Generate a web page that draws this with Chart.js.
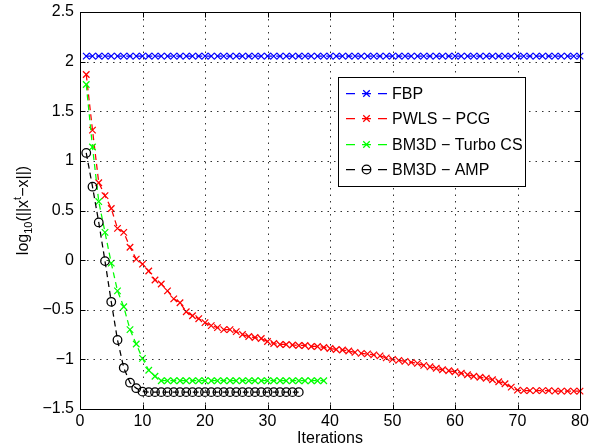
<!DOCTYPE html>
<html>
<head>
<meta charset="UTF-8">
<title>Convergence</title>
<script src="https://cdn.jsdelivr.net/npm/chart.js"></script>
<style>
    html, body { margin: 0; padding: 0; background: #fff; }
    #chart { display: block; }
</style>
</head>
<body>
<canvas id="chart" width="596" height="448"></canvas>
<script>
const seriesNames = ['FBP', 'PWLS − PCG', 'BM3D − Turbo CS', 'BM3D − AMP'];
const seriesColors = ['#0000ff', '#ff0000', '#00ff00', '#000000'];
const seriesMarkers = ['crossRot', 'crossRot', 'crossRot', 'circle'];

const xTickValues = [0, 10, 20, 30, 40, 50, 60, 70, 80];
const xTickLabels = ['0', '10', '20', '30', '40', '50', '60', '70', '80'];
const yTickValues = [-1.5, -1, -0.5, 0, 0.5, 1, 1.5, 2, 2.5];
const yTickLabels = ['−1.5', '−1', '−0.5', '0', '0.5', '1', '1.5', '2', '2.5'];

// log10 error per iteration (iteration 1, 2, ...)
const fbp = [
    2.055, 2.055, 2.055, 2.055, 2.055, 2.055, 2.055, 2.055, 2.055, 2.055,
    2.055, 2.055, 2.055, 2.055, 2.055, 2.055, 2.055, 2.055, 2.055, 2.055,
    2.055, 2.055, 2.055, 2.055, 2.055, 2.055, 2.055, 2.055, 2.055, 2.055,
    2.055, 2.055, 2.055, 2.055, 2.055, 2.055, 2.055, 2.055, 2.055, 2.055,
    2.055, 2.055, 2.055, 2.055, 2.055, 2.055, 2.055, 2.055, 2.055, 2.055,
    2.055, 2.055, 2.055, 2.055, 2.055, 2.055, 2.055, 2.055, 2.055, 2.055,
    2.055, 2.055, 2.055, 2.055, 2.055, 2.055, 2.055, 2.055, 2.055, 2.055,
    2.055, 2.055, 2.055, 2.055, 2.055, 2.055, 2.055, 2.055, 2.055, 2.055
];
const pwls = [
    1.87, 1.31, 0.78, 0.65, 0.52, 0.32, 0.28, 0.13, 0.01, -0.04,
    -0.11, -0.20, -0.24, -0.31, -0.39, -0.43, -0.52, -0.56, -0.59, -0.63,
    -0.66, -0.68, -0.70, -0.70, -0.72, -0.75, -0.77, -0.78, -0.79, -0.82,
    -0.84, -0.85, -0.85, -0.855, -0.86, -0.86, -0.87, -0.87, -0.88, -0.89,
    -0.90, -0.905, -0.915, -0.93, -0.94, -0.945, -0.955, -0.965, -0.985, -1.00,
    -1.01, -1.02, -1.03, -1.04, -1.06, -1.075, -1.09, -1.105, -1.115, -1.125,
    -1.14, -1.155, -1.17, -1.18, -1.19, -1.205, -1.225, -1.245, -1.28, -1.31,
    -1.315, -1.315, -1.315, -1.315, -1.315, -1.32, -1.32, -1.32, -1.32, -1.32
];
const turbo = [
    1.77, 1.14, 0.59, 0.28, -0.03, -0.31, -0.47, -0.70, -0.845, -0.99,
    -1.11, -1.17, -1.215, -1.215, -1.215, -1.215, -1.215, -1.215, -1.215, -1.215,
    -1.215, -1.215, -1.215, -1.215, -1.215, -1.215, -1.215, -1.215, -1.215, -1.215,
    -1.215, -1.215, -1.215, -1.215, -1.215, -1.215, -1.215, -1.215, -1.215
];
const amp = [
    1.08, 0.74, 0.38, -0.01, -0.42, -0.805, -1.085, -1.235, -1.29, -1.325,
    -1.33, -1.33, -1.33, -1.33, -1.33, -1.33, -1.33, -1.33, -1.33, -1.33,
    -1.33, -1.33, -1.33, -1.33, -1.33, -1.33, -1.33, -1.33, -1.33, -1.33,
    -1.33, -1.33, -1.33, -1.33, -1.33
];

const FONT = '"Liberation Sans", Arial, Helvetica, sans-serif';

function toPoints(arr) {
    return arr.map((v, i) => ({ x: i + 1, y: v }));
}

function makeDataset(idx, values) {
    const circle = seriesMarkers[idx] === 'circle';
    return {
        label: seriesNames[idx],
        data: toPoints(values),
        borderColor: seriesColors[idx],
        backgroundColor: 'transparent',
        borderWidth: 1.25,
        borderDash: [6, 4],
        pointStyle: seriesMarkers[idx],
        pointRadius: circle ? 4.3 : 4.6,
        pointBorderWidth: 1.25,
        pointBorderColor: seriesColors[idx],
        pointBackgroundColor: 'transparent',
        tension: 0,
        clip: false,
        order: 4 - idx
    };
}

function drawMarker(ctx, style, x, y, color) {
    ctx.save();
    ctx.setLineDash([]);
    ctx.strokeStyle = color;
    ctx.lineWidth = 1.25;
    ctx.beginPath();
    if (style === 'circle') {
        ctx.arc(x, y, 4.3, 0, Math.PI * 2);
    } else {
        const d = 4.6 * Math.SQRT1_2;
        ctx.moveTo(x - d, y - d); ctx.lineTo(x + d, y + d);
        ctx.moveTo(x - d, y + d); ctx.lineTo(x + d, y - d);
    }
    ctx.stroke();
    ctx.restore();
}

// dotted grid, box and inward ticks
const gridPlugin = {
    id: 'matlabGrid',
    afterDatasetsDraw(chart) {
        const { ctx, chartArea: a, scales } = chart;
        const L = Math.round(a.left) + 0.5, R = Math.round(a.right) + 0.5;
        const T = Math.round(a.top) + 0.5, B = Math.round(a.bottom) + 0.5;
        ctx.save();
        ctx.strokeStyle = '#333';
        ctx.lineWidth = 1;
        ctx.setLineDash([1.5, 5]);
        ctx.beginPath();
        xTickValues.forEach(v => {
            const px = Math.round(scales.x.getPixelForValue(v)) + 0.5;
            ctx.moveTo(px, T); ctx.lineTo(px, B);
        });
        yTickValues.forEach(v => {
            const py = Math.round(scales.y.getPixelForValue(v)) + 0.5;
            ctx.moveTo(L, py); ctx.lineTo(R, py);
        });
        ctx.stroke();

        ctx.strokeStyle = '#000';
        ctx.setLineDash([]);
        ctx.strokeRect(L, T, R - L, B - T);
        const tl = 5;
        ctx.beginPath();
        xTickValues.forEach(v => {
            const px = Math.round(scales.x.getPixelForValue(v)) + 0.5;
            ctx.moveTo(px, B); ctx.lineTo(px, B - tl);
            ctx.moveTo(px, T); ctx.lineTo(px, T + tl);
        });
        yTickValues.forEach(v => {
            const py = Math.round(scales.y.getPixelForValue(v)) + 0.5;
            ctx.moveTo(L, py); ctx.lineTo(L + tl, py);
            ctx.moveTo(R, py); ctx.lineTo(R - tl, py);
        });
        ctx.stroke();
        ctx.restore();
    }
};

// boxed legend inside the plot, MATLAB style
const legendPlugin = {
    id: 'boxLegend',
    afterDraw(chart) {
        const ctx = chart.ctx;
        const box = { left: 338.5, top: 77.5, right: 525.5, bottom: 186.5 };
        ctx.save();
        ctx.fillStyle = '#fff';
        ctx.fillRect(box.left, box.top, box.right - box.left, box.bottom - box.top);
        ctx.strokeStyle = '#000';
        ctx.lineWidth = 1;
        ctx.strokeRect(box.left, box.top, box.right - box.left, box.bottom - box.top);
        ctx.font = '16px ' + FONT;
        ctx.textBaseline = 'middle';
        ctx.fillStyle = '#000';
        chart.data.datasets.forEach((ds, i) => {
            const y = Math.round(93 + i * 25.3) + 0.5;
            ctx.strokeStyle = ds.borderColor;
            ctx.lineWidth = 1.25;
            ctx.beginPath();
            ctx.moveTo(346, y); ctx.lineTo(355, y);
            ctx.moveTo(362, y); ctx.lineTo(371, y);
            ctx.moveTo(378, y); ctx.lineTo(387, y);
            ctx.stroke();
            drawMarker(ctx, ds.pointStyle, 366.5, y, ds.borderColor);
            ctx.fillText(ds.label, 392, y + 1);
        });
        ctx.restore();
    }
};

// y axis title with sub/superscripts
const yTitlePlugin = {
    id: 'yTitle',
    afterDraw(chart) {
        const ctx = chart.ctx;
        const a = chart.chartArea;
        const parts = [
            { t: 'log', size: 16, dy: 0 },
            { t: '10', size: 11, dy: 4 },
            { t: '(||x', size: 16, dy: 0 },
            { t: 't', size: 11, dy: -7 },
            { t: '−x||)', size: 16, dy: 0 }
        ];
        ctx.save();
        ctx.translate(28, (a.top + a.bottom) / 2);
        ctx.rotate(-Math.PI / 2);
        ctx.fillStyle = '#000';
        ctx.textBaseline = 'alphabetic';
        let total = 0;
        parts.forEach(p => { ctx.font = p.size + 'px ' + FONT; p.w = ctx.measureText(p.t).width; total += p.w; });
        let x = -total / 2;
        parts.forEach(p => {
            ctx.font = p.size + 'px ' + FONT;
            ctx.fillText(p.t, x, p.dy);
            x += p.w;
        });
        ctx.restore();
    }
};

new Chart(document.getElementById('chart'), {
    type: 'line',
    data: {
        datasets: [
            makeDataset(0, fbp),
            makeDataset(1, pwls),
            makeDataset(2, turbo),
            makeDataset(3, amp)
        ]
    },
    options: {
        responsive: false,
        animation: false,
        layout: { padding: { top: 12, right: 16, left: 0, bottom: 0 } },
        plugins: {
            legend: { display: false },
            tooltip: { enabled: false }
        },
        scales: {
            x: {
                type: 'linear',
                min: 0,
                max: 80,
                grid: { display: false, drawTicks: false, tickLength: 0 },
                border: { display: false },
                afterBuildTicks: s => { s.ticks = xTickValues.map(v => ({ value: v })); },
                afterFit: s => { s.height = 39; s.paddingLeft = 0; s.paddingRight = 0; },
                ticks: {
                    color: '#000',
                    padding: 3,
                    maxRotation: 0,
                    font: { family: FONT, size: 16 },
                    callback: (v) => xTickLabels[xTickValues.indexOf(v)]
                },
                title: {
                    display: true,
                    text: 'Iterations',
                    color: '#000',
                    font: { family: FONT, size: 16 },
                    padding: { top: 0, bottom: 0 }
                }
            },
            y: {
                type: 'linear',
                min: -1.5,
                max: 2.5,
                grid: { display: false, drawTicks: false, tickLength: 0 },
                border: { display: false },
                afterBuildTicks: s => { s.ticks = yTickValues.map(v => ({ value: v })); },
                afterFit: s => { s.width = 80; s.paddingTop = 0; s.paddingBottom = 0; },
                ticks: {
                    color: '#000',
                    padding: 6,
                    font: { family: FONT, size: 16 },
                    callback: (v) => yTickLabels[yTickValues.indexOf(v)]
                }
            }
        }
    },
    plugins: [gridPlugin, legendPlugin, yTitlePlugin]
});
</script>
</body>
</html>
